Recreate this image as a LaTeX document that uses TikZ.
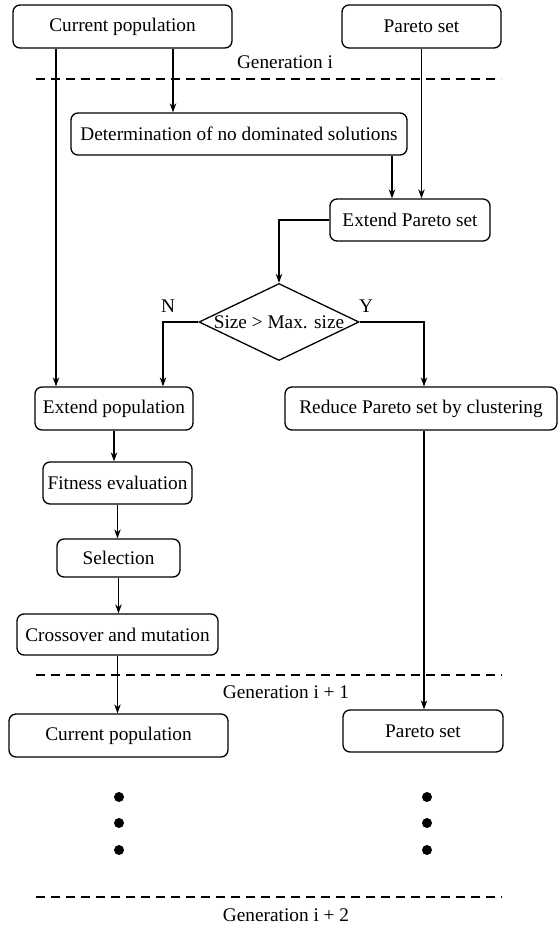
\documentclass[tikz,border=0pt]{standalone}
\usepackage{fontspec}
\setmainfont{Liberation Serif}
\usetikzlibrary{shapes.geometric, arrows.meta}
\tikzset{
  box/.style={draw, rounded corners=7pt, line width=1.3pt, inner sep=0pt},
  sizetest/.style={draw, diamond, aspect=2.08, inner sep=0pt, line width=1.3pt, minimum width=160pt, minimum height=77pt},
  flow/.style={->, line width=1.2pt},
  genline/.style={dash pattern=on 9pt off 6pt, line width=1.1pt},
}

\begin{document}
\begin{tikzpicture}[x=1pt, y=-1pt, >={Stealth[length=9pt, width=6.5pt]}, font=\fontsize{19.3}{23}\selectfont]
  \useasboundingbox (0,0) rectangle (558,927);
  % Generation i
  \node[box, minimum width=219pt, minimum height=43pt] (curpop) at (122.5,26.5) {Current population};
  \node[box, minimum width=159pt, minimum height=43pt] (pareto) at (421.5,26.5) {Pareto set};
  \node (gen1) at (285,62) {Generation i};
  \draw[genline] (36,79) -- (501,79);
  \node[box, minimum width=336pt, minimum height=42pt] (determ) at (239,134) {Determination of no dominated solutions};
  \node[box, minimum width=160pt, minimum height=42pt] (extpareto) at (410,220) {Extend Pareto set};
  \node[sizetest] (size) at (279,322) {Size > Max. size};
  \node (nlab) at (168,306) {N};
  \node (ylab) at (366,306) {Y};
  \node[box, minimum width=158pt, minimum height=43pt] (extpop) at (114,408.5) {Extend population};
  \node[box, minimum width=272pt, minimum height=43pt] (reduce) at (421,408.5) {Reduce Pareto set by clustering};
  \node[box, minimum width=149pt, minimum height=42pt] (fitness) at (117.5,483) {Fitness evaluation};
  \node[box, minimum width=123pt, minimum height=38pt] (select) at (118.5,558) {Selection};
  \node[box, minimum width=201pt, minimum height=41pt] (cross) at (117.5,634.5) {Crossover and mutation};
  % Generation i + 1
  \draw[genline] (36,675) -- (502,675);
  \node (gen2) at (286,692) {Generation i + 1};
  \node[box, minimum width=219pt, minimum height=43pt] (curpop2) at (118.5,735.5) {Current population};
  \node[box, minimum width=160pt, minimum height=42pt] (pareto2) at (423,731) {Pareto set};
  \foreach \y in {797,823,850} {
    \fill (119,\y) circle (5pt);
    \fill (427,\y) circle (5pt);
  }
  % Generation i + 2
  \draw[genline] (36,897) -- (502,897);
  \node (gen3) at (286,915) {Generation i + 2};
  % Connectors
  \draw[flow] ([xshift=50.5pt]curpop.south) -- ([xshift=50.5pt]curpop.south |- determ.north);
  \draw[flow] ([xshift=-66.5pt]curpop.south) -- ([xshift=-66.5pt]curpop.south |- extpop.north);
  \draw[flow] (pareto.south) -- (pareto.south |- extpareto.north);
  \draw[flow] ([xshift=-18pt]extpareto.north |- determ.south) -- ([xshift=-18pt]extpareto.north);
  \draw[flow] (extpareto.west) -| (size.north);
  \draw[flow] (size.west) -| ([xshift=49pt]extpop.north);
  \draw[flow] (size.east) -| ([xshift=3pt]reduce.north);
  \draw[flow] ([xshift=3pt]reduce.south) -- ([xshift=3pt]reduce.south |- pareto2.north);
  \draw[flow] (extpop.south) -- (extpop.south |- fitness.north);
  \draw[flow] (fitness.south) -- (fitness.south |- select.north);
  \draw[flow] (select.south) -- (select.south |- cross.north);
  \draw[flow] (cross.south) -- (cross.south |- curpop2.north);
\end{tikzpicture}
\end{document}
